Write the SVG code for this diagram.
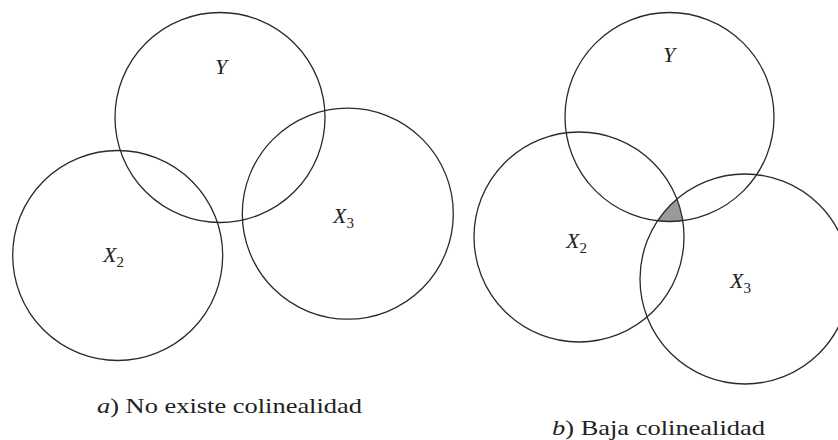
<svg xmlns="http://www.w3.org/2000/svg" width="838" height="440" viewBox="0 0 838 440">
<style>
.c{fill:none;stroke:#2a2a2a;stroke-width:1.3}
.lbl{font-style:italic;font-size:22px;fill:#222}
.sub{font-size:15px;font-style:normal}
.cap{font-size:22px;fill:#222}
.it{font-style:italic}
.shade{fill:#9a9a9a;stroke:none}
</style>
<rect width="838" height="440" fill="#ffffff"/>
<g id="panel-a" font-family="'Liberation Serif', 'Times New Roman', serif">
  <g id="a-Y"><circle class="c" cx="220" cy="117.5" r="105"/><text class="lbl" x="221" y="74" text-anchor="middle">Y</text></g>
  <g id="a-X2"><circle class="c" cx="117.7" cy="255.5" r="105"/><text class="lbl" x="103" y="262">X<tspan class="sub" dy="5">2</tspan></text></g>
  <g id="a-X3"><circle class="c" cx="347.8" cy="213.7" r="105.5"/><text class="lbl" x="333" y="223">X<tspan class="sub" dy="5">3</tspan></text></g>
  <text id="cap-a" class="cap" x="97" y="413" textLength="265" lengthAdjust="spacingAndGlyphs"><tspan class="it">a</tspan>) No existe colinealidad</text>
</g>
<g id="panel-b" font-family="'Liberation Serif', 'Times New Roman', serif">
  <path id="b-overlap" class="shade" d="M676.9 199 A105 105 0 0 1 682.7 220.7 A104.5 104.5 0 0 1 657.6 220.8 A105 105 0 0 1 676.9 199 Z"/>
  <g id="b-Y"><circle class="c" cx="669.5" cy="117" r="104.5"/><text class="lbl" x="669" y="62" text-anchor="middle">Y</text></g>
  <g id="b-X2"><circle class="c" cx="579" cy="237" r="105"/><text class="lbl" x="566" y="248">X<tspan class="sub" dy="5">2</tspan></text></g>
  <g id="b-X3"><circle class="c" cx="745" cy="279" r="105"/><text class="lbl" x="730" y="288">X<tspan class="sub" dy="5">3</tspan></text></g>
  <text id="cap-b" class="cap" x="552" y="435" textLength="213" lengthAdjust="spacingAndGlyphs"><tspan class="it">b</tspan>) Baja colinealidad</text>
</g>
<g id="connectors"/>
</svg>
